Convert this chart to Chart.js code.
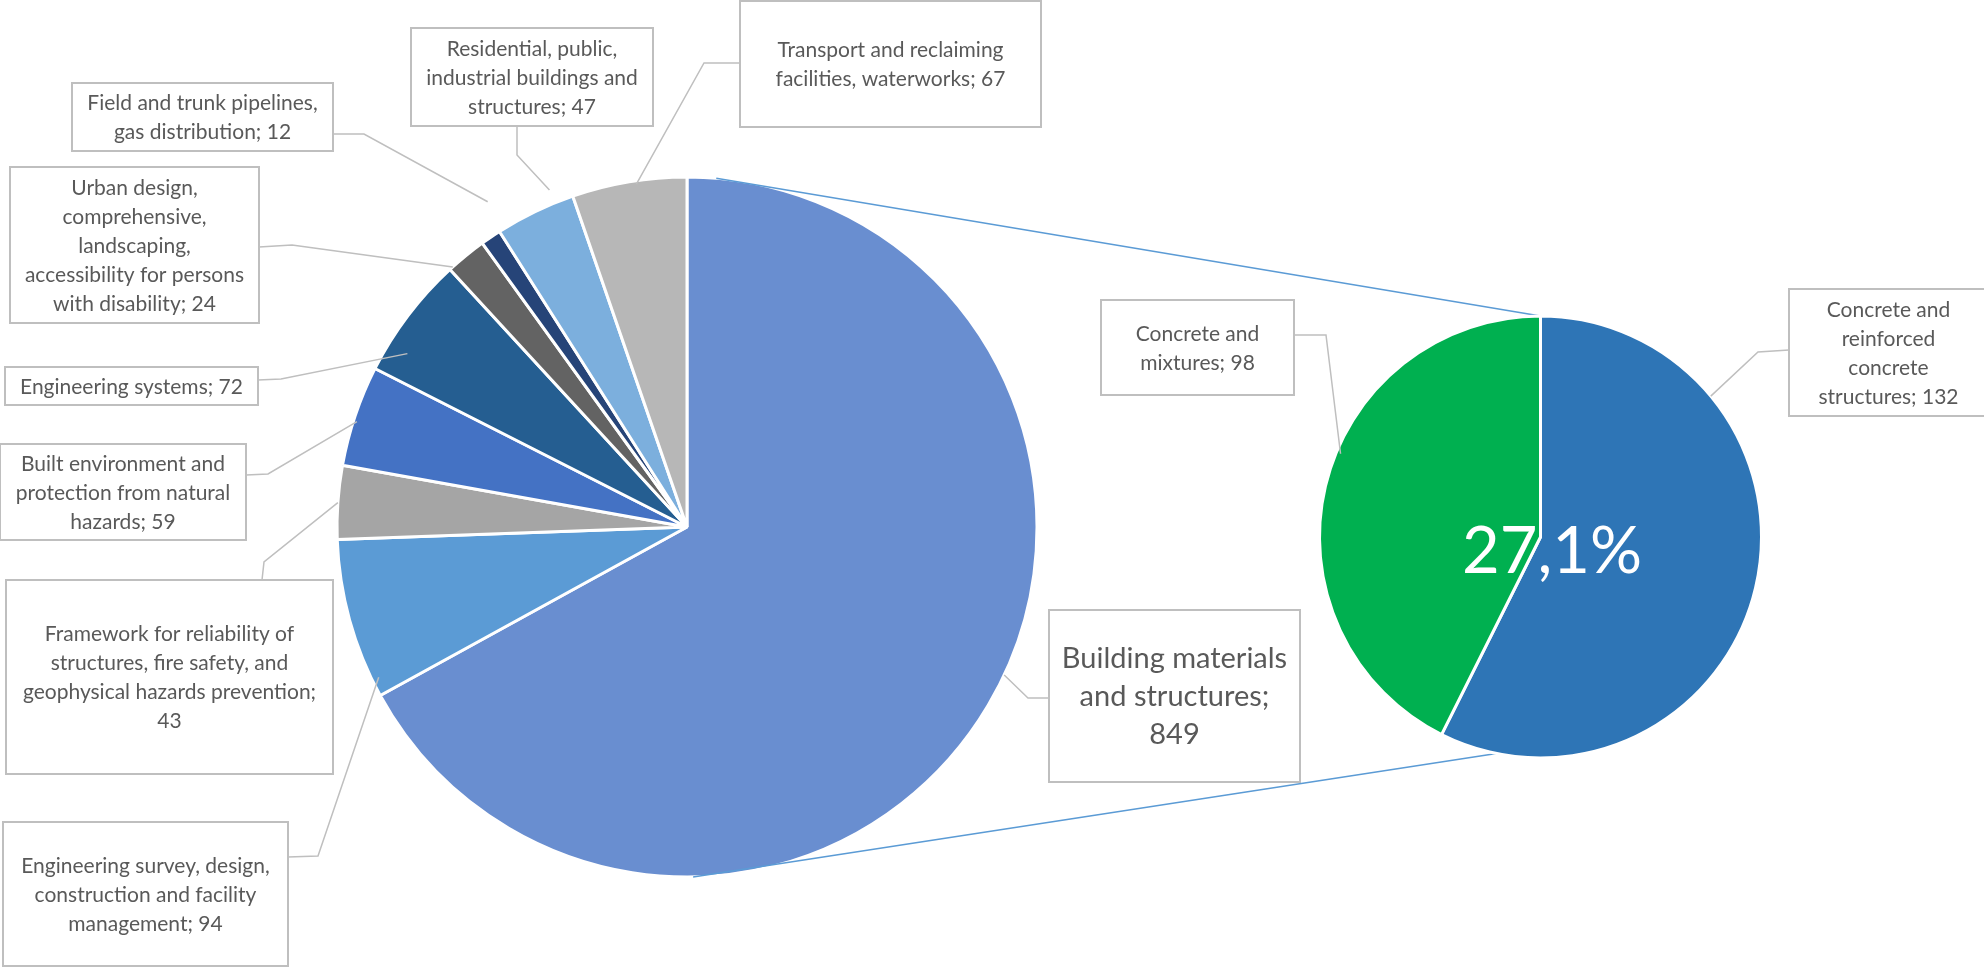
<!DOCTYPE html>
<html lang="en">
<head>
<meta charset="UTF-8">
<title>Pie of pie</title>
<script src="https://cdn.jsdelivr.net/npm/chart.js@4"></script>
<style>
  body { margin: 0; background: #fff; }
  #conteiner { position: relative; width: 1984px; height: 967px; overflow: hidden; }
  #conteiner canvas { position: absolute; left: 0; top: 0; }
</style>
</head>
<body>
<div id="conteiner">
  <canvas id="principal" width="1984" height="967"></canvas>
  <canvas id="secundario" width="1984" height="967"></canvas>
</div>
<script>
// ===================================================================
// DADOS
// ===================================================================

const categorias = [
  "Building materials and structures",
  "Engineering survey, design, construction and facility management",
  "Framework for reliability of structures, fire safety, and geophysical hazards prevention",
  "Built environment and protection from natural hazards",
  "Engineering systems",
  "Urban design, comprehensive, landscaping, accessibility for persons with disability",
  "Field and trunk pipelines, gas distribution",
  "Residential, public, industrial buildings and structures",
  "Transport and reclaiming facilities, waterworks",
];
const valores = [849, 94, 43, 59, 72, 24, 12, 47, 67];
const cores = ["#698ED0", "#5B9BD5", "#A5A5A5", "#4472C4", "#255E91", "#636363", "#264478", "#7CAFDD", "#B7B7B7"];

// detalhamento da primeira fatia (pie of pie)
const subCategorias = ["Concrete and reinforced concrete structures", "Concrete and mixtures"];
const subValores = [132, 98];
const subCores = ["#2E75B6", "#00B050"];

// ===================================================================
// LAYOUT DOS ROTULOS
// ===================================================================

const FONTE = "Lato, 'Open Sans', sans-serif";
const PESO = 400;
const COR_TEXTO = "#595959";
const COR_BORDA = "#BFBFBF";
const COR_LIGACAO = "#5B9BD5";

// caixa: [x1, y1, x2, y2]; guia: pontos da linha a partir da caixa; ponta: [grau, fator do raio]
const caixasPrincipal = [
  { caixa: [1049, 610, 1300, 782], largura: 236, tamanho: 29, entrelinha: 38, guia: [[1049, 698], [1028, 698]], ponta: [115, 1.0] },
  { caixa: [3, 822, 288, 966], largura: 270, guia: [[288, 857], [318, 856]], ponta: [244, 0.98] },
  { caixa: [6, 580, 333, 774], largura: 305, guia: [[262, 580], [264, 562]], ponta: [274, 1.0] },
  { caixa: [0, 444, 246, 540], largura: 235, guia: [[246, 475], [268, 474]], ponta: [287.7, 0.99] },
  { caixa: [5, 367, 258, 405], largura: 260, guia: [[258, 380], [281, 379]], ponta: [301.8, 0.94] },
  { caixa: [10, 167, 259, 323], largura: 220, guia: [[259, 247], [292, 245]], ponta: [318, 1.0] },
  { caixa: [72, 83, 333, 151], largura: 235, guia: [[333, 134], [364, 134]], ponta: [328.5, 1.09] },
  { caixa: [411, 28, 653, 126], largura: 232, guia: [[517, 126], [517, 155]], ponta: [337.8, 1.04] },
  { caixa: [740, 1, 1041, 127], largura: 260, guia: [[740, 63], [704, 63]], ponta: [351.6, 0.99] },
];

const caixasSecundario = [
  { caixa: [1789, 289, 1988, 416], largura: 165, guia: [[1789, 350], [1758, 352]], ponta: [50.4, 1.0] },
  { caixa: [1101, 300, 1294, 395], largura: 165, guia: [[1294, 335], [1326, 335]], ponta: [292.6, 0.98] },
];

// linhas entre as pizzas: [grau na principal, grau na secundaria]
const linhasLigacao = [[4.8, 0], [179, 191.5]];

// ===================================================================
// FUNCOES AUXILIARES
// ===================================================================

function pontoNoArco(arco, grau, fator) {
  const ang = ((grau - 90) * Math.PI) / 180;
  const r = arco.outerRadius * fator;
  return [arco.x + r * Math.cos(ang), arco.y + r * Math.sin(ang)];
}

function quebrarTexto(ctx, texto, largura) {
  const palavras = texto.split(" ");
  const linhas = [];
  let atual = "";
  palavras.forEach((p) => {
    const teste = atual ? atual + " " + p : p;
    if (atual && ctx.measureText(teste).width > largura) {
      linhas.push(atual);
      atual = p;
    } else {
      atual = teste;
    }
  });
  if (atual) linhas.push(atual);
  return linhas;
}

function desenharRotulo(ctx, arco, cfg, texto) {
  const [x1, y1, x2, y2] = cfg.caixa;
  const ponta = pontoNoArco(arco, cfg.ponta[0], cfg.ponta[1]);

  ctx.save();
  ctx.strokeStyle = COR_BORDA;
  ctx.lineWidth = 1.5;
  ctx.beginPath();
  ctx.moveTo(cfg.guia[0][0], cfg.guia[0][1]);
  cfg.guia.slice(1).forEach((p) => ctx.lineTo(p[0], p[1]));
  ctx.lineTo(ponta[0], ponta[1]);
  ctx.stroke();

  ctx.lineWidth = 2;
  ctx.strokeRect(x1, y1, x2 - x1, y2 - y1);

  const tamanho = cfg.tamanho || 21;
  const entrelinha = cfg.entrelinha || 29;
  ctx.font = `${PESO} ${tamanho}px ${FONTE}`;
  ctx.fillStyle = COR_TEXTO;
  ctx.textAlign = "center";
  ctx.textBaseline = "alphabetic";
  const linhas = quebrarTexto(ctx, texto, cfg.largura);
  const cx = (x1 + x2) / 2;
  const cy = (y1 + y2) / 2;
  linhas.forEach((l, k) => {
    const y = cy + (k - (linhas.length - 1) / 2) * entrelinha + tamanho * 0.36;
    ctx.fillText(l, cx, y);
  });
  ctx.restore();
}

// ===================================================================
// PLUGINS
// ===================================================================

const pluginRotulosPrincipal = {
  id: "rotulosPrincipal",
  afterDraw(chart) {
    const arco = chart.getDatasetMeta(0).data[0];
    caixasPrincipal.forEach((cfg, i) => {
      desenharRotulo(chart.ctx, arco, cfg, categorias[i] + "; " + valores[i]);
    });
  },
};

const pluginSecundario = {
  id: "rotulosSecundario",
  beforeDatasetsDraw(chart) {
    const a = graficoPrincipal.getDatasetMeta(0).data[0];
    const b = chart.getDatasetMeta(0).data[0];
    const ctx = chart.ctx;
    ctx.save();
    ctx.strokeStyle = COR_LIGACAO;
    ctx.lineWidth = 1.5;
    linhasLigacao.forEach(([ga, gb]) => {
      const p = pontoNoArco(a, ga, 1);
      const q = pontoNoArco(b, gb, 1);
      ctx.beginPath();
      ctx.moveTo(p[0], p[1]);
      ctx.lineTo(q[0], q[1]);
      ctx.stroke();
    });
    ctx.restore();
  },
  afterDatasetsDraw(chart) {
    const arco = chart.getDatasetMeta(0).data[0];
    const ctx = chart.ctx;

    // parcela da fatia principal detalhada
    const soma = subValores.reduce((s, v) => s + v, 0);
    const pct = ((soma / valores[0]) * 100).toFixed(1).replace(".", ",") + "%";
    ctx.save();
    ctx.font = `${PESO} 65px ${FONTE}`;
    ctx.fillStyle = "#FFFFFF";
    ctx.textAlign = "center";
    ctx.textBaseline = "alphabetic";
    ctx.fillText(pct, arco.x + 11.5, arco.y + 36);
    ctx.restore();

    caixasSecundario.forEach((cfg, i) => {
      desenharRotulo(ctx, arco, cfg, subCategorias[i] + "; " + subValores[i]);
    });
  },
};

// ===================================================================
// GRAFICOS
// ===================================================================

const graficoPrincipal = new Chart(document.getElementById("principal"), {
  type: "pie",
  data: {
    labels: categorias,
    datasets: [
      {
        data: valores,
        backgroundColor: cores,
        borderColor: "#FFFFFF",
        borderWidth: 3,
        radius: 350,
      },
    ],
  },
  options: {
    responsive: false,
    animation: false,
    layout: { padding: { left: 0, right: 610, top: 87, bottom: 0 } },
    plugins: {
      legend: { display: false },
      tooltip: { enabled: false },
    },
  },
  plugins: [pluginRotulosPrincipal],
});

const graficoSecundario = new Chart(document.getElementById("secundario"), {
  type: "pie",
  data: {
    labels: subCategorias,
    datasets: [
      {
        data: subValores,
        backgroundColor: subCores,
        borderColor: "#FFFFFF",
        borderWidth: 3,
        radius: 221,
      },
    ],
  },
  options: {
    responsive: false,
    animation: false,
    layout: { padding: { left: 1097, right: 0, top: 107, bottom: 0 } },
    plugins: {
      legend: { display: false },
      tooltip: { enabled: false },
    },
  },
  plugins: [pluginSecundario],
});
</script>
</body>
</html>
